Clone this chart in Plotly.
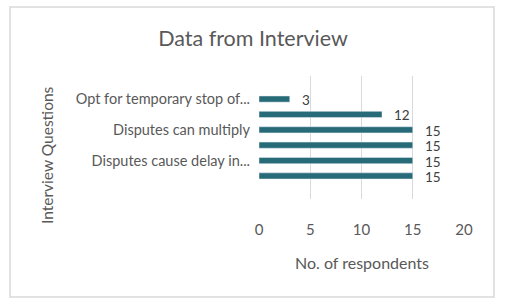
import plotly.graph_objects as go

categories = ["Opt for temporary stop of...", "", "Disputes can multiply", "", "Disputes cause delay in...", ""]
values = [3, 12, 15, 15, 15, 15]
x_ticks = [0, 5, 10, 15, 20]

W, H = 505, 307
L, R, T, B = 259, 464, 76, 199  # plot area in pixels

idx = list(range(len(categories)))
BAR = "#276A78"
GRAY = "#595959"
FONT = "Lato"

fig = go.Figure()
fig.add_trace(go.Bar(
    x=values, y=idx, orientation="h", marker_color=BAR, width=0.4,
    hoverinfo="skip",
))

for i, v in zip(idx, values):
    fig.add_annotation(x=v, y=i, text=str(v), showarrow=False, xanchor="left",
                       xshift=10, yshift=-1, font=dict(family=FONT, size=13.5, color="#404040"))

def px_x(p):
    return (p - L) / (R - L)

def px_y(p):
    return (B - p) / (B - T)

# outer chart border
fig.add_shape(type="rect", xref="paper", yref="paper",
              x0=px_x(10), x1=px_x(494), y0=px_y(297), y1=px_y(7),
              line=dict(color="#D9D9D9", width=1.5), layer="below")

# y-axis title
fig.add_annotation(xref="paper", yref="paper", x=px_x(47), y=px_y(155), text="Interview Questions",
                   textangle=-90, showarrow=False, xanchor="center", yanchor="middle",
                   font=dict(family=FONT, size=15.5, color=GRAY))
# x-axis title
fig.add_annotation(xref="paper", yref="paper", x=px_x(361.5), y=px_y(262), text="No. of respondents",
                   showarrow=False, xanchor="center", yanchor="middle",
                   font=dict(family=FONT, size=16, color=GRAY))

fig.update_layout(
    width=W, height=H,
    margin=dict(l=L, r=W - R, t=T, b=H - B, pad=0),
    paper_bgcolor="white", plot_bgcolor="white",
    showlegend=False,
    title=dict(text="Data from Interview", x=253 / W, xref="container", xanchor="center",
               y=1 - 38 / H, yref="container", yanchor="middle",
               font=dict(family=FONT, size=21.5, color=GRAY)),
    xaxis=dict(range=[0, 20], tickvals=x_ticks, ticktext=[str(t) for t in x_ticks],
               showgrid=True, gridcolor="#D9D9D9", gridwidth=1, zeroline=False,
               showline=False, ticks="", ticklabelstandoff=20,
               tickfont=dict(family=FONT, size=15, color=GRAY), fixedrange=True),
    yaxis=dict(range=[len(categories) + 0.5, -1.5], tickvals=idx, ticktext=categories,
               showgrid=False, zeroline=False, showline=False, ticks="",
               ticklabelstandoff=8,
               tickfont=dict(family=FONT, size=14.5, color=GRAY), fixedrange=True),
)

fig.write_html("out.html", config={"displayModeBar": False},
               post_script="document.body.style.margin='0';document.body.style.overflow='hidden';")
